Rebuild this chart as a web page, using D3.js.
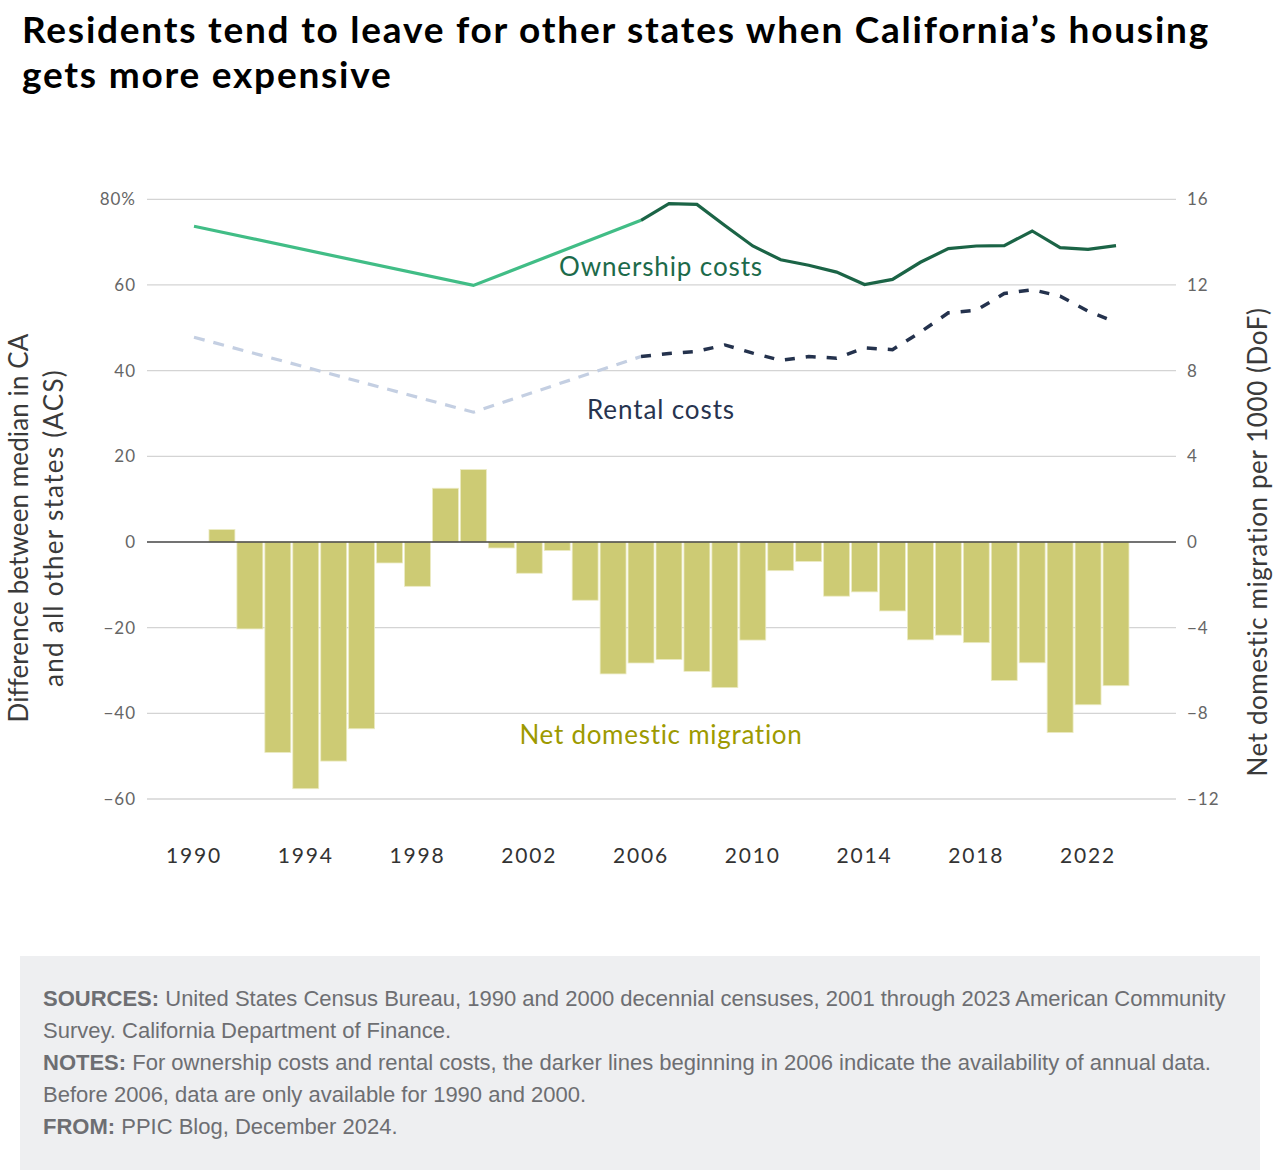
<!DOCTYPE html>
<html>
<head>
<meta charset="utf-8">
<script src="https://cdn.jsdelivr.net/npm/d3@7"></script>
<style>
  body { margin: 0; background: #fff; }
  svg { display: block; }
</style>
</head>
<body>
<div id="chart"></div>
<script>
// Years and series
const migrationYears = d3.range(1991, 2024);
const netMigration = [0.58, -4.06, -9.83, -11.52, -10.23, -8.72, -0.98, -2.07, 2.51, 3.38,
  -0.28, -1.46, -0.40, -2.72, -6.16, -5.65, -5.49, -6.04, -6.8, -4.58,
  -1.34, -0.91, -2.53, -2.33, -3.22, -4.57, -4.35, -4.70, -6.47, -5.64,
  -8.90, -7.60, -6.71];

const earlyYears = [1990, 2000, 2006];
const ownershipEarly = [73.7, 59.9, 75.1];
const rentalEarly = [47.8, 30.3, 43.3];

const annualYears = d3.range(2006, 2024);
const ownershipAnnual = [75.1, 79.0, 78.8, 73.9, 69.1, 65.9, 64.6, 63.0, 60.1, 61.3,
  65.3, 68.5, 69.1, 69.2, 72.6, 68.7, 68.3, 69.2];
const rentalAnnual = [43.3, 44.0, 44.5, 46.0, 44.1, 42.4, 43.3, 42.9, 45.3, 44.9,
  49.0, 53.5, 54.1, 58.0, 58.9, 57.4, 53.9, 51.3];

const leftTicks = [-60, -40, -20, 0, 20, 40, 60, 80];
const rightTicks = [-12, -8, -4, 0, 4, 8, 12, 16];
const xTicks = [1990, 1994, 1998, 2002, 2006, 2010, 2014, 2018, 2022];

const width = 1280, height = 1176;
const plot = { left: 147, right: 1176, top: 199.3, bottom: 799 };
const chartFont = "Lato, 'Open Sans', sans-serif";

const svg = d3.select("#chart").append("svg")
  .attr("width", width)
  .attr("height", height);

// spread letters so a text line fills the width seen in the picture
function fitWidth(node, target) {
  const n = node.getNumberOfChars();
  const w = node.getComputedTextLength();
  d3.select(node).style("letter-spacing", ((target - w) / n) + "px");
}

// Title
const title = svg.append("g")
  .style("font-family", chartFont)
  .style("font-weight", "bold")
  .style("font-size", "37px")
  .attr("fill", "#000");
const t1 = title.append("text").attr("x", 22).attr("y", 43)
  .text("Residents tend to leave for other states when California\u2019s housing");
const t2 = title.append("text").attr("x", 22).attr("y", 88)
  .text("gets more expensive");
const spread = (1188 - t1.node().getComputedTextLength()) / t1.node().getNumberOfChars();
t1.style("letter-spacing", spread + "px");
t2.style("letter-spacing", spread + "px");

// Scales
const x = d3.scaleLinear().domain([1990, 2023]).range([194, 1116]);
const step = x(1991) - x(1990);
const yLeft = d3.scaleLinear().domain([-60, 80]).range([plot.bottom, plot.top]);
const yRight = d3.scaleLinear().domain([-12, 16]).range([plot.bottom, plot.top]);

// Gridlines
svg.append("g")
  .selectAll("line")
  .data(leftTicks.filter(d => d !== 0))
  .enter()
  .append("line")
  .attr("x1", plot.left)
  .attr("x2", plot.right)
  .attr("y1", d => yLeft(d))
  .attr("y2", d => yLeft(d))
  .attr("stroke", "#d4d4d4")
  .attr("stroke-width", 1.3);

const fmt = d => d < 0 ? "\u2212" + Math.abs(d) : String(d);

// Left tick labels
svg.append("g")
  .selectAll("text")
  .data(leftTicks)
  .enter()
  .append("text")
  .attr("x", 136)
  .attr("y", d => yLeft(d) + 6)
  .attr("text-anchor", "end")
  .style("font-family", chartFont)
  .style("font-size", "17px")
  .style("letter-spacing", "1px")
  .attr("fill", "#666")
  .text(d => d === 80 ? "80%" : fmt(d));

// Right tick labels
svg.append("g")
  .selectAll("text")
  .data(rightTicks)
  .enter()
  .append("text")
  .attr("x", 1187)
  .attr("y", d => yRight(d) + 6)
  .attr("text-anchor", "start")
  .style("font-family", chartFont)
  .style("font-size", "17px")
  .style("letter-spacing", "1px")
  .attr("fill", "#666")
  .text(fmt);

// Bars
svg.append("g")
  .selectAll("rect")
  .data(migrationYears.map((yr, i) => ({ year: yr, value: netMigration[i] })))
  .enter()
  .append("rect")
  .attr("x", d => x(d.year) - step / 2 + 1)
  .attr("width", step - 2)
  .attr("y", d => yRight(Math.max(0, d.value)))
  .attr("height", d => Math.abs(yRight(d.value) - yRight(0)))
  .attr("fill", "#cdcb74")
  .attr("stroke", "#ecebc4")
  .attr("stroke-width", 0.8);

// Zero line
svg.append("line")
  .attr("x1", plot.left)
  .attr("x2", plot.right)
  .attr("y1", yLeft(0))
  .attr("y2", yLeft(0))
  .attr("stroke", "#444")
  .attr("stroke-width", 1.6);

// Lines
const line = d3.line().x(d => x(d[0])).y(d => yLeft(d[1]));
const zip = (a, b) => a.map((v, i) => [v, b[i]]);

svg.append("path")
  .datum(zip(earlyYears, rentalEarly))
  .attr("d", line)
  .attr("fill", "none")
  .attr("stroke", "#c4cfe2")
  .attr("stroke-width", 3.2)
  .attr("stroke-dasharray", "11,9");

svg.append("path")
  .datum(zip(annualYears, rentalAnnual))
  .attr("d", line)
  .attr("fill", "none")
  .attr("stroke", "#24324d")
  .attr("stroke-width", 3.5)
  .attr("stroke-dasharray", "10,11");

svg.append("path")
  .datum(zip(earlyYears, ownershipEarly))
  .attr("d", line)
  .attr("fill", "none")
  .attr("stroke", "#41bd86")
  .attr("stroke-width", 3.2);

svg.append("path")
  .datum(zip(annualYears, ownershipAnnual))
  .attr("d", line)
  .attr("fill", "none")
  .attr("stroke", "#1b6446")
  .attr("stroke-width", 3.2);

// Series labels
const labels = [
  { text: "Ownership costs", y: 276, color: "#1c6a4a", w: 204 },
  { text: "Rental costs", y: 419, color: "#27344f", w: 148 },
  { text: "Net domestic migration", y: 744, color: "#9d9a00", w: 284 }
];
svg.append("g")
  .selectAll("text")
  .data(labels)
  .enter()
  .append("text")
  .attr("x", 661)
  .attr("y", d => d.y)
  .attr("text-anchor", "middle")
  .style("font-family", chartFont)
  .style("font-size", "26px")
  .attr("fill", d => d.color)
  .text(d => d.text)
  .each(function(d) { fitWidth(this, d.w); });

// X tick labels
svg.append("g")
  .selectAll("text")
  .data(xTicks)
  .enter()
  .append("text")
  .attr("x", d => x(d))
  .attr("y", 863)
  .attr("text-anchor", "middle")
  .style("font-family", chartFont)
  .style("font-size", "21px")
  .attr("fill", "#333")
  .text(d => d)
  .each(function() { fitWidth(this, 56); });

// Axis titles
const leftTitle = svg.append("g")
  .attr("transform", "translate(0,528) rotate(-90)")
  .style("font-family", chartFont)
  .style("font-size", "26px")
  .attr("fill", "#3a3a3a");
leftTitle.append("text").attr("x", 0).attr("y", 28).attr("text-anchor", "middle")
  .text("Difference between median in CA")
  .each(function() { fitWidth(this, 388); });
leftTitle.append("text").attr("x", 0).attr("y", 63).attr("text-anchor", "middle")
  .text("and all other states (ACS)")
  .each(function() { fitWidth(this, 318); });

svg.append("text")
  .attr("transform", "translate(1267,542) rotate(-90)")
  .attr("text-anchor", "middle")
  .style("font-family", chartFont)
  .style("font-size", "26px")
  .attr("fill", "#3a3a3a")
  .text("Net domestic migration per 1000 (DoF)")
  .each(function() { fitWidth(this, 470); });

// Footer
svg.append("rect")
  .attr("x", 20)
  .attr("y", 956)
  .attr("width", 1240)
  .attr("height", 214)
  .attr("fill", "#eeeff1");

const footLines = [
  [["SOURCES:", true], [" United States Census Bureau, 1990 and 2000 decennial censuses, 2001 through 2023 American Community", false]],
  [["Survey. California Department of Finance.", false]],
  [["NOTES:", true], [" For ownership costs and rental costs, the darker lines beginning in 2006 indicate the availability of annual data.", false]],
  [["Before 2006, data are only available for 1990 and 2000.", false]],
  [["FROM:", true], [" PPIC Blog, December 2024.", false]]
];
const foot = svg.append("g")
  .style("font-family", "'Liberation Sans', Arial, sans-serif")
  .style("font-size", "22px")
  .attr("fill", "#6d6e72");
footLines.forEach((parts, i) => {
  const t = foot.append("text").attr("x", 43).attr("y", 1006 + i * 32);
  parts.forEach(([txt, bold]) => {
    t.append("tspan").attr("font-weight", bold ? "bold" : "normal").text(txt);
  });
});
</script>
</body>
</html>
